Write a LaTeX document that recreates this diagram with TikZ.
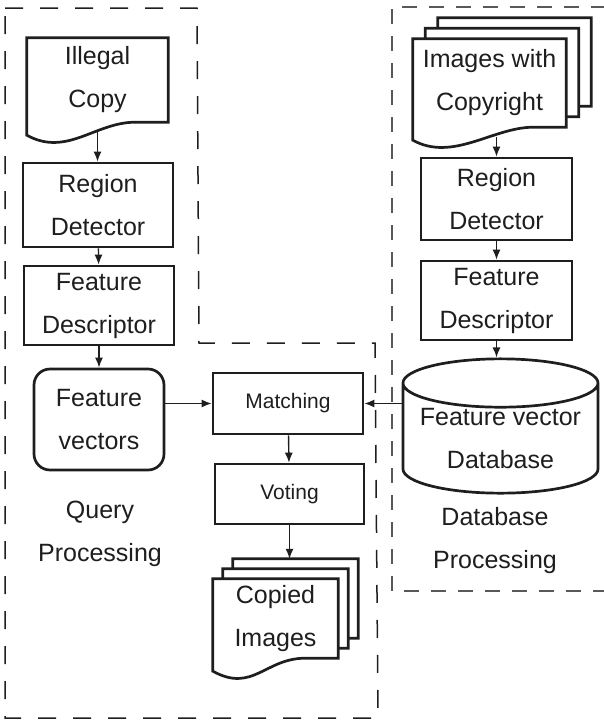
\documentclass[tikz,border=0pt]{standalone}
\usepackage{fontspec}
\setmainfont{Liberation Sans}
\usetikzlibrary{arrows.meta,shapes.geometric,calc}
\definecolor{ink}{HTML}{1e1e1e}
\pgfdeclarelayer{bg}
\pgfsetlayers{bg,main}

\tikzset{
  box/.style={draw=ink, line width=2.7pt},
  proc/.style={box, rectangle, align=center, inner sep=0pt},
  sheet/.style={rectangle, align=center, inner sep=0pt},
  small/.style={font=\fontsize{21}{30}\selectfont},
  arr/.style={draw=ink, line width=1.4pt, -{Latex[length=10pt,width=8pt]}},
  region/.style={draw=ink, line width=1.5pt, dash pattern=on 18pt off 17pt}
}

% document sheet with a wavy bottom, drawn behind the text
\newcommand\docsheet[1]{%
  \begin{pgfonlayer}{bg}
  \draw[box, fill=white] (#1.south east) -- (#1.north east) -- (#1.north west) -- (#1.south west) -- ++(0,13)
    .. controls +(40,22) and +(-40,0) .. ($(#1.south east)+(-33,0)$) -- cycle;
  \end{pgfonlayer}
  \coordinate (#1-foot) at ($(#1.south)+(0,10)$);}

\begin{document}
\begin{tikzpicture}[x=1pt, y=-1pt, font=\fontsize{25}{43}\selectfont, text=ink]

\useasboundingbox (0,0) rectangle (604,724);

% processing regions
\draw[region] (5,8) -- (197,8) -- (199,343) -- (375,343) -- (378,718) -- (5,718) -- cycle;
\draw[region, draw=black!65, dash pattern=on 15pt off 12pt] (606,7) -- (392,7) -- (392,591) -- (606,591);

% query side
\node[sheet, minimum width=141, minimum height=84] (ic) at (97.5,80) {Illegal\\Copy};
\node[proc, minimum width=150, minimum height=84] (rdq) at (98,205) {Region\\Detector};
\node[proc, minimum width=150, minimum height=79] (fdq) at (99,305.5) {Feature\\Descriptor};
\node[proc, rounded corners=16pt, minimum width=130, minimum height=101] (fv) at (99,419.5) {Feature\\vectors};
\node[align=center] (qp) at (100,534) {Query\\Processing};

\node[proc, small, minimum width=150, minimum height=61] (mt) at (288,403.5) {Matching};
\node[proc, small, minimum width=149, minimum height=60] (vt) at (289.5,494) {Voting};
\node[sheet, minimum width=125, minimum height=79] (ci) at (275.5,618.5) {Copied\\Images};
\node[sheet, minimum width=125, minimum height=79] (ci2) at ([shift={(10,-10)}]ci.center) {};
\node[sheet, minimum width=125, minimum height=79] (ci3) at ([shift={(20,-20)}]ci.center) {};

% database side
\node[sheet, minimum width=153, minimum height=88] (iwc) at (489.5,83) {Images with\\Copyright};
\node[sheet, minimum width=153, minimum height=88] (iwc2) at ([shift={(12.5,-10.5)}]iwc.center) {};
\node[sheet, minimum width=153, minimum height=88] (iwc3) at ([shift={(25,-21)}]iwc.center) {};
\node[proc, minimum width=151, minimum height=82] (rdd) at (496.5,199) {Region\\Detector};
\node[proc, minimum width=151, minimum height=79] (fdd) at (496.5,300.5) {Feature\\Descriptor};
\node[box, cylinder, shape border rotate=90, aspect=0.3, align=center, inner sep=0pt,
  minimum width=195, minimum height=132, anchor=shape center] (db) at (500.5,426) {Feature vector\\Database};
\node[align=center] (dp) at (495,541) {Database\\Processing};

% sheets, back to front
\docsheet{ic}
\docsheet{ci3}
\docsheet{ci2}
\docsheet{ci}
\docsheet{iwc3}
\docsheet{iwc2}
\docsheet{iwc}

% connectors
\draw[arr] (ic-foot) -- (ic-foot |- rdq.north);
\draw[arr] (rdq) -- (fdq);
\draw[arr] (fdq) -- (fv);
\draw[arr] (fv.east |- mt) -- (mt.west);
\draw[arr] (mt -| db.west) -- (mt.east);
\draw[arr] (mt) -- (vt);
\draw[arr] (vt.south) -- (vt.south |- ci3.north);

\draw[arr] (iwc-foot -| rdd) -- (rdd.north);
\draw[arr] (rdd) -- (fdd);
\draw[arr] (fdd.south) -- (fdd.south |- db.north);

\end{tikzpicture}
\end{document}
